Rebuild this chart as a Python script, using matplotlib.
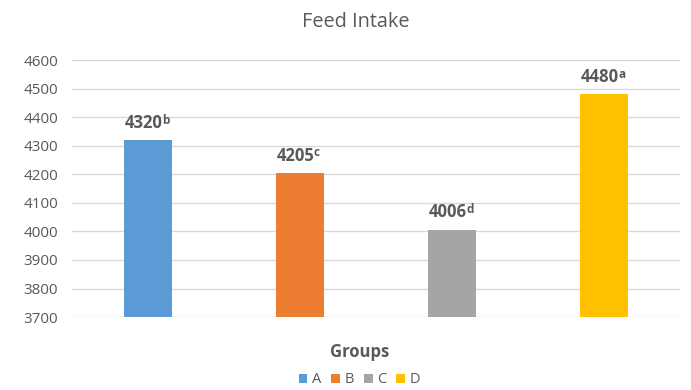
import matplotlib
matplotlib.use("Agg")
import matplotlib.pyplot as plt
from matplotlib.patches import Patch

categories = ["A", "B", "C", "D"]
values = [4320, 4205, 4006, 4480]
letters = ["b", "c", "d", "a"]
colors = ["#5B9BD5", "#ED7D31", "#A5A5A5", "#FFC000"]
yticks = [3700, 3800, 3900, 4000, 4100, 4200, 4300, 4400, 4500, 4600]

plt.rcParams['font.family'] = ['Open Sans', 'DejaVu Sans']
txt = "#595959"

fig = plt.figure(figsize=(6.91, 3.90), dpi=100)
ax = fig.add_axes([0.104, 0.187, 0.88, 0.659])

x = range(len(categories))
ax.bar(x, values, width=0.32, color=colors, zorder=3)
ax.set_ylim(3700, 4600)
ax.set_xlim(-0.5, len(categories) - 0.5)
ax.set_yticks(yticks)
ax.set_xticks([])
ax.tick_params(axis='y', length=0, labelsize=11, labelcolor=txt, pad=10)
ax.grid(axis='y', color="#D9D9D9", linewidth=1, zorder=0)
for s in ax.spines.values():
    s.set_visible(False)

for i, (v, l) in enumerate(zip(values, letters)):
    t = ax.annotate(str(v), xy=(i, v), xytext=(-3, 6), textcoords='offset points',
                    ha='center', va='bottom', fontsize=12, fontweight='bold', color=txt)
    ax.annotate(l, xy=(1, 0.45), xycoords=t, xytext=(-0.5, 0), textcoords='offset points',
                ha='left', va='baseline', fontsize=8.5, fontweight='bold', color=txt)

fig.text(0.515, 0.943, "Feed Intake", ha='center', va='center', fontsize=14.3, color=txt)
fig.text(0.52, 0.097, "Groups", ha='center', va='center', fontsize=12, fontweight='bold', color=txt)

handles = [Patch(facecolor=c, label=n) for c, n in zip(colors, categories)]
leg = fig.legend(handles=handles, loc='center', bbox_to_anchor=(0.52, 0.026), ncol=4,
                 frameon=False, handlelength=0.6, handleheight=0.6, handletextpad=0.3,
                 columnspacing=0.7, fontsize=10.5, borderpad=0.1)
for t in leg.get_texts():
    t.set_color(txt)

fig.savefig("out.png", dpi=100)
